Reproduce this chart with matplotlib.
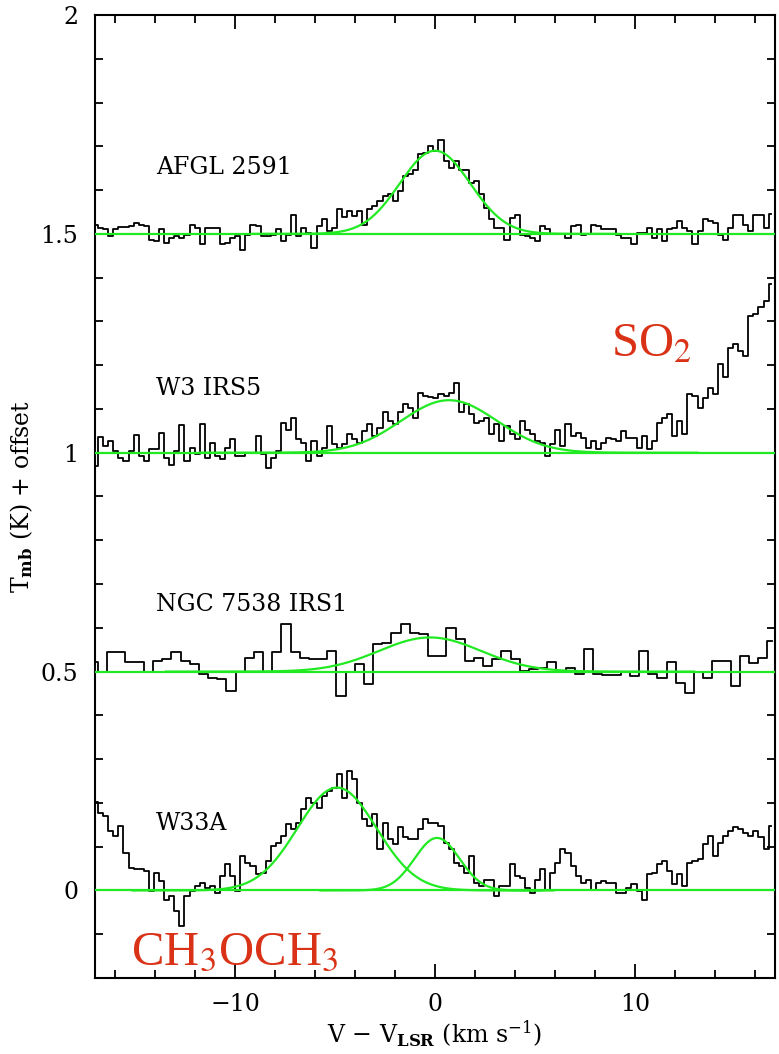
import matplotlib
matplotlib.use('Agg')
import matplotlib.pyplot as plt
import numpy as np
from matplotlib.ticker import MultipleLocator, FuncFormatter

plt.rcParams['font.family'] = ['DejaVu Serif']
plt.rcParams['mathtext.fontset'] = 'dejavuserif'

# ---------------- data ----------------
source_names = ["AFGL 2591", "W3 IRS5", "NGC 7538 IRS1", "W33A"]
offsets = [1.5, 1.0, 0.5, 0.0]

# channel grids (first channel lower edge, channel width) in km/s
grid_start = [-17.1, -17.1, -17.31, -17.1]
grid_width = [0.254, 0.254, 0.4585, 0.254]

afgl2591 = [0.021, 0.014, 0.01, -0.005, 0.012, 0.015, 0.015, 0.019, 0.024, 0.021, 0.018, -0.013,
            -0.017, 0.01, -0.02, -0.009, -0.005, -0.009, -0.002, 0.021, 0.014, -0.024, 0.014, 0.014,
            0.014, -0.024, -0.02, -0.009, -0.005, -0.036, -0.002, 0.02, 0.018, -0.005, -0.005, -0.002,
            0.01, -0.017, -0.002, 0.043, -0.005, 0.014, 0.002, -0.032, 0.018, 0.033, 0.006, 0.014,
            0.057, 0.038, 0.053, 0.04, 0.052, 0.021, 0.056, 0.063, 0.075, 0.086, 0.09, 0.075, 0.098,
            0.132, 0.136, 0.147, 0.182, 0.185, 0.2,
            0.19, 0.214, 0.166, 0.151, 0.166, 0.147, 0.147, 0.117, 0.121, 0.09, 0.06, 0.033, 0.014,
            0.014, -0.013, 0.037, 0.044, -0.002, -0.005, -0.009, -0.017, 0.018, 0.01, 0.0, 0.0, 0.0,
            -0.009, 0.018, 0.021, -0.002, 0.0, 0.021, 0.018, 0.01, 0.01, 0.01, -0.002, -0.009, -0.009,
            -0.024, 0.002, 0.002, 0.014, -0.009, 0.01, -0.017, 0.01, 0.014, 0.029, 0.014, 0.006,
            -0.024, 0.006, 0.033, 0.029, 0.025, -0.002, -0.013, 0.014, 0.043, 0.043, 0.021, 0.006,
            0.043, 0.043, 0.014, 0.046]

w3irs5 = [-0.03, 0.036, 0.015, 0.027, 0.004, -0.011, -0.019, 0.004, 0.04, -0.008, -0.019, 0.008,
          0.008, 0.046, -0.011, -0.027, 0.004, 0.063, -0.019, 0.011, -0.004, 0.066, -0.011, 0.023,
          -0.008, -0.015, 0.011, 0.031, -0.008, -0.008, 0.0, 0.0, 0.038, -0.004, -0.034, -0.011,
          0.004, 0.069, 0.053, 0.08, 0.031, 0.023, -0.019, 0.027, -0.008, 0.011, 0.061, 0.019,
          0.011, 0.019, 0.042, 0.031, 0.023, 0.05, 0.065, 0.038, 0.057, 0.092, 0.073, 0.065, 0.092,
          0.111, 0.103, 0.08, 0.137, 0.13, 0.128,
          0.126, 0.134, 0.13, 0.137, 0.16, 0.092, 0.111, 0.088, 0.069, 0.073, 0.08, 0.042, 0.065,
          0.027, 0.061, 0.042, 0.031, 0.073, 0.053, 0.042, 0.027, 0.023, -0.008, 0.019, 0.053,
          0.015, 0.065, 0.038, 0.046, 0.034, 0.011, 0.027, 0.008, 0.023, 0.034, 0.031, 0.027,
          0.05, 0.034, 0.034, 0.011, 0.038, 0.008, 0.027, 0.069, 0.08, 0.088, 0.038, 0.073, 0.042,
          0.134, 0.13, 0.103, 0.126, 0.149, 0.134, 0.202, 0.172, 0.24, 0.248, 0.233, 0.221, 0.313,
          0.317, 0.332, 0.347, 0.385]

ngc7538 = [0.021, 0.0, 0.044, 0.044, 0.023, 0.023, 0.0, 0.024, 0.028, 0.044, 0.024, 0.017, -0.006,
           -0.014, -0.018, -0.044, 0.0, 0.032, 0.044, 0.0, 0.044, 0.108, 0.044, 0.032, 0.028, 0.028,
           0.047, -0.056, -0.002, 0.017, -0.029, 0.063, 0.066, 0.089, 0.108, 0.089, 0.085, 0.036,
           0.036, 0.10, 0.074, 0.024, 0.032, 0.013, 0.028, 0.047, 0.028, 0.002, 0.005, 0.009, 0.021,
           0.002, 0.009, -0.006, 0.051, -0.006, -0.008, -0.008, -0.002, -0.01, 0.047, -0.006, -0.014,
           0.021, -0.025, -0.048, -0.002, -0.014, 0.024, 0.024, -0.033, 0.036, 0.019, 0.032, 0.07]

w33a = [0.202, 0.178, 0.17, 0.136, 0.124, 0.147, 0.086, 0.052, 0.05, 0.048, 0.044, -0.002, 0.04,
        0.021, -0.021, -0.013, -0.047, -0.082, -0.013, -0.002, 0.01, 0.018, 0.006, 0.01, -0.005,
        0.033, 0.06, 0.033, -0.002, 0.079, 0.063, 0.056, 0.037, 0.04, 0.067, 0.102, 0.109, 0.124,
        0.151, 0.14, 0.155, 0.185, 0.212, 0.2, 0.189, 0.216, 0.227, 0.235, 0.266, 0.212, 0.273,
        0.254, 0.2, 0.163, 0.147, 0.174, 0.094, 0.155, 0.117, 0.105, 0.144, 0.121, 0.117, 0.117,
        0.14, 0.163, 0.155,
        0.155, 0.147, 0.109, 0.094, 0.063, 0.056, 0.04, 0.079, 0.018, 0.01, 0.025, 0.025, -0.013,
        0.01, 0.01, 0.06, 0.033, 0.029, 0.006, -0.005, 0.025, 0.048, 0.002, 0.04, 0.063, 0.094,
        0.086, 0.056, 0.033, 0.018, 0.025, 0.002, 0.018, 0.021, 0.018, 0.018, -0.005, -0.005,
        0.006, 0.014, -0.002, -0.021, 0.037, 0.04, 0.06, 0.067, 0.044, 0.014, 0.037, 0.01, 0.063,
        0.067, 0.071, 0.105, 0.124, 0.079, 0.109, 0.124, 0.136, 0.144, 0.14, 0.132, 0.124, 0.136,
        0.121, 0.094, 0.147]

spectra = [afgl2591, w3irs5, ngc7538, w33a]

# Gaussian fits: (spectrum index, centre, amplitude, FWHM)
fit_source = [0, 1, 2, 3, 3]
fit_center = [0.0, 0.7, -0.25, -4.9, 0.1]
fit_amp = [0.19, 0.12, 0.078, 0.235, 0.12]
fit_fwhm = [4.15, 5.65, 6.0, 4.65, 2.65]

label_x = [-13.95, -13.95, -13.95, -13.95]
label_y = [1.651, 1.147, 0.653, 0.153]

# ---------------- figure ----------------
fig = plt.figure(figsize=(7.79, 10.54), dpi=100)
ax = fig.add_axes([95 / 779, 1 - 978 / 1054, 680 / 779, 963 / 1054])
xlim = (-17.0, 17.0)
ax.set_xlim(*xlim)
ax.set_ylim(-0.2, 2.0)

green = '#22ea22'
for vals, off, x0, dw in zip(spectra, offsets, grid_start, grid_width):
    v = np.asarray(vals)
    xc = x0 + dw * (np.arange(len(v)) + 0.5)
    ax.step(xc, v + off, where='mid', color='black', lw=1.3, zorder=2)
    ax.plot(xlim, [off, off], color=green, lw=1.6, zorder=3)

for s, c, a, w in zip(fit_source, fit_center, fit_amp, fit_fwhm):
    sig = w / 2.3548
    xx = np.linspace(c - 2.2 * w, c + 2.2 * w, 300)
    ax.plot(xx, offsets[s] + a * np.exp(-0.5 * ((xx - c) / sig) ** 2), color=green, lw=1.6, zorder=3)

for name, lx, ly in zip(source_names, label_x, label_y):
    ax.text(lx, ly, name, fontsize=17, va='center', ha='left', color='black')

red = '#d93216'
ax.text(8.8, 1.219, r'SO$_2$', fontsize=35, color=red, family='Liberation Serif',
        math_fontfamily='stix', ha='left', va='baseline')
ax.text(-15.2, -0.169, r'CH$_3$OCH$_3$', fontsize=35, color=red, family='Liberation Serif',
        math_fontfamily='stix', ha='left', va='baseline')

ax.xaxis.set_major_locator(MultipleLocator(10))
ax.xaxis.set_minor_locator(MultipleLocator(2))
ax.yaxis.set_major_locator(MultipleLocator(0.5))
ax.yaxis.set_minor_locator(MultipleLocator(0.1))
ax.yaxis.set_major_formatter(FuncFormatter(lambda v, p: '%g' % v))
ax.tick_params(which='both', direction='in', top=True, right=True, width=1.3)
ax.tick_params(which='major', labelsize=17)
ax.tick_params(axis='x', which='major', length=10, pad=11)
ax.tick_params(axis='y', which='major', length=5.5, pad=12)
ax.tick_params(which='minor', length=5.5)
for sp in ax.spines.values():
    sp.set_linewidth(1.5)

ax.set_xlabel(r'V $-$ V$_{\mathbf{LSR}}$ (km s$^{-1}$)', fontsize=17, labelpad=2)
ax.set_ylabel(r'T$_{\mathbf{mb}}$ (K) + offset', fontsize=17, labelpad=4)

fig.savefig('out.png', dpi=100)
